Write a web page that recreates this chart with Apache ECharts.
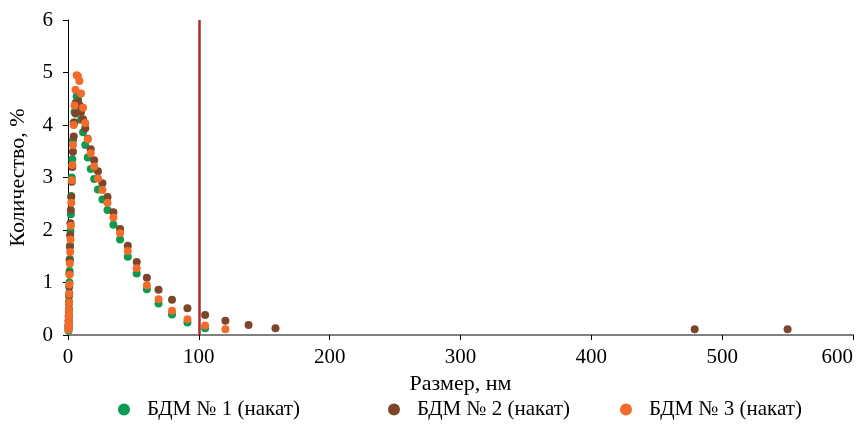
<!DOCTYPE html>
<html><head><meta charset="utf-8">
<script src="https://cdn.jsdelivr.net/npm/echarts@6/dist/echarts.min.js"></script>
<style>html,body{margin:0;padding:0;background:#fff}#c{width:857px;height:425px}</style>
</head><body><div id="c"></div>
<script>
const seriesNames = ['БДМ № 1 (накат)', 'БДМ № 2 (накат)', 'БДМ № 3 (накат)'];
const xTicks = [0, 100, 200, 300, 400, 500, 600];
const yTicks = [0, 1, 2, 3, 4, 5, 6];
const limitSize = 100;

const sizes = [0.36,0.42,0.48,0.55,0.63,0.72,0.83,0.95,1.09,1.25,1.44,1.65,1.9,2.18,2.5,2.88,3.3,3.8,4.36,5.0,5.75,6.6,7.6,8.7,10,11.5,13.2,15.1,17.4,20,22.9,26.3,30.2,34.7,39.8,45.7,52.5,60.3,69.2,79.5,91.3,104.8,120.3,138,158.6];
const sizesTail = [479, 550];

const bdm1 = [0.08,0.14,0.2,0.28,0.38,0.5,0.64,0.8,1.0,1.22,1.45,1.7,1.98,2.3,2.65,3.0,3.35,3.71,4.05,4.25,4.42,4.55,4.5,4.32,4.10,3.86,3.62,3.38,3.16,2.97,2.77,2.58,2.38,2.10,1.82,1.49,1.17,0.87,0.60,0.39,0.24,0.13];
const bdm2 = [0.12,0.18,0.26,0.35,0.46,0.6,0.75,0.92,1.17,1.42,1.68,1.9,2.13,2.38,2.63,2.92,3.2,3.49,3.78,4.05,4.22,4.42,4.45,4.38,4.25,4.11,3.94,3.74,3.54,3.33,3.12,2.89,2.63,2.34,2.02,1.70,1.39,1.09,0.86,0.67,0.51,0.38,0.27,0.19,0.13];
const bdm2Tail = [0.11, 0.11];
const bdm3 = [0.10,0.14,0.20,0.28,0.37,0.48,0.62,0.78,0.96,1.15,1.36,1.58,1.82,2.08,2.52,2.95,3.24,3.62,4.0,4.37,4.67,4.95,4.93,4.84,4.60,4.33,4.04,3.73,3.46,3.21,2.98,2.76,2.52,2.24,1.94,1.60,1.27,0.95,0.68,0.46,0.30,0.18,0.11];

const colors = ['#0a9b4f', '#7d4529', '#f26b2a'];
function pairs(xs, ys) { return ys.map((v, i) => [xs[i], v]); }

const d1 = pairs(sizes, bdm1);
const d2 = pairs(sizes, bdm2).concat(pairs(sizesTail, bdm2Tail));
const d3 = pairs(sizes, bdm3);

const font = 'Liberation Serif';
const chart = echarts.init(document.getElementById('c'));
const legendLefts = [118, 388, 620];
chart.setOption({
  animation: false,
  grid: { left: 68, right: 4, top: 20, bottom: 90, containLabel: false, outerBoundsMode: 'none' },
  xAxis: {
    type: 'value', min: xTicks[0], max: xTicks[xTicks.length - 1], interval: 100,
    name: 'Размер, нм', nameLocation: 'middle', nameGap: 38,
    nameTextStyle: { fontFamily: font, fontSize: 22, color: '#000' },
    axisLine: { onZero: false, lineStyle: { color: '#808080', width: 2 } },
    axisTick: { show: true, length: 5, lineStyle: { color: '#000' } },
    axisLabel: { fontFamily: font, fontSize: 21, color: '#000', margin: 12, alignMaxLabel: 'right' },
    splitLine: { show: false }
  },
  yAxis: {
    type: 'value', min: yTicks[0], max: yTicks[yTicks.length - 1], interval: 1,
    name: 'Количество, %', nameLocation: 'middle', nameGap: 39,
    nameTextStyle: { fontFamily: font, fontSize: 22, color: '#000' },
    axisLine: { show: true, lineStyle: { color: '#000', width: 1 } },
    axisTick: { show: true, length: 5, lineStyle: { color: '#000' } },
    axisLabel: { fontFamily: font, fontSize: 21, color: '#000', margin: 15 },
    splitLine: { show: false }
  },
  legend: seriesNames.map((n, i) => ({
    data: [n], left: legendLefts[i], top: 399, icon: 'circle', itemWidth: 12, itemHeight: 12, itemGap: 10,
    padding: 0,
    textStyle: { fontFamily: font, fontSize: 21, color: '#000', padding: [0, 0, 0, 12] }
  })),
  series: [
    { name: seriesNames[0], type: 'scatter', data: d1, symbolSize: 8, itemStyle: { color: colors[0], opacity: 1 }, z: 2 },
    { name: seriesNames[1], type: 'scatter', data: d2, symbolSize: 8, itemStyle: { color: colors[1], opacity: 1 }, z: 3 },
    { name: seriesNames[2], type: 'scatter', data: d3, symbolSize: 8, itemStyle: { color: colors[2], opacity: 1 }, z: 4,
      markLine: { silent: true, symbol: 'none', label: { show: false },
        lineStyle: { color: '#b22a2a', width: 2.5, type: 'solid' },
        data: [[{ coord: [limitSize, 0] }, { coord: [limitSize, 6] }]] } }
  ]
});
</script></body></html>
